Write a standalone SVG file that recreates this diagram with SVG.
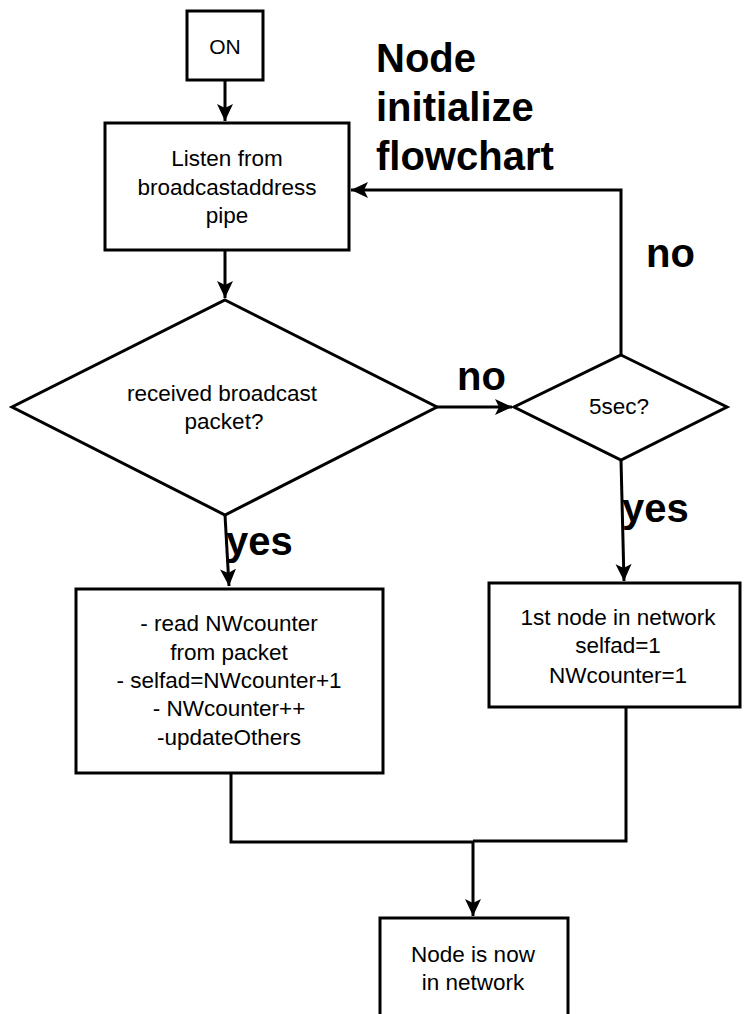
<svg xmlns="http://www.w3.org/2000/svg" width="748" height="1014" viewBox="0 0 748 1014">
  <style>
    .shape { fill: #ffffff; stroke: #000000; stroke-width: 3; }
    .edge { fill: none; stroke: #000000; stroke-width: 3; }
    .txt { font-family: "Liberation Sans", Arial, sans-serif; font-size: 22.5px; fill: #000000; text-anchor: middle; }
    .big { font-family: "Liberation Sans", Arial, sans-serif; font-size: 40px; font-weight: bold; fill: #000000; }
  </style>
  <defs>
    <marker id="arrow" markerUnits="userSpaceOnUse" markerWidth="20" markerHeight="18" refX="17" refY="9" orient="auto">
      <path d="M0,1 L17,9 L0,17 L4,9 Z" fill="#000000"/>
    </marker>
  </defs>
  <rect width="748" height="1014" fill="#ffffff"/>

  <g id="connectors">
    <path class="edge" d="M225,80 L225,121" marker-end="url(#arrow)"/>
    <path class="edge" d="M225,250 L225,298" marker-end="url(#arrow)"/>
    <path class="edge" d="M437,407 L512,407" marker-end="url(#arrow)"/>
    <path class="edge" d="M621,355 L621,190 L351,190" marker-end="url(#arrow)"/>
    <path class="edge" d="M225,515 L229,586" marker-end="url(#arrow)"/>
    <path class="edge" d="M621,460 L624,581" marker-end="url(#arrow)"/>
    <path class="edge" d="M231,773 L231,842 L473,842"/>
    <path class="edge" d="M626,707 L626,841 L473,841"/>
    <path class="edge" d="M473,841 L473,916" marker-end="url(#arrow)"/>
  </g>

  <g id="title">
    <text class="big" x="376" y="72">Node</text>
    <text class="big" x="376" y="121">initialize</text>
    <text class="big" x="376" y="170">flowchart</text>
  </g>

  <g id="label-no-left"><text class="big" x="457" y="390">no</text></g>
  <g id="label-no-right"><text class="big" x="646" y="267">no</text></g>
  <g id="label-yes-left"><text class="big" x="226" y="555">yes</text></g>
  <g id="label-yes-right"><text class="big" x="622" y="522">yes</text></g>

  <g id="node-on">
    <rect class="shape" x="187" y="11" width="76" height="69"/>
    <text class="txt" x="225" y="54" style="font-size:21px">ON</text>
  </g>

  <g id="node-listen">
    <rect class="shape" x="105" y="123" width="244" height="127"/>
    <text class="txt" x="227" y="166">Listen from</text>
    <text class="txt" x="227" y="195">broadcastaddress</text>
    <text class="txt" x="227" y="223">pipe</text>
  </g>

  <g id="node-received">
    <polygon class="shape" points="225,300 437,407 225,515 12,407"/>
    <text class="txt" x="222" y="401">received broadcast</text>
    <text class="txt" x="224" y="429">packet?</text>
  </g>

  <g id="node-5sec">
    <polygon class="shape" points="621,355 727,407 621,460 514,407"/>
    <text class="txt" x="619" y="414">5sec?</text>
  </g>

  <g id="node-join">
    <rect class="shape" x="76" y="589" width="307" height="184"/>
    <text class="txt" x="229" y="631">- read NWcounter</text>
    <text class="txt" x="229" y="660">from packet</text>
    <text class="txt" x="229" y="688">- selfad=NWcounter+1</text>
    <text class="txt" x="229" y="716">- NWcounter++</text>
    <text class="txt" x="229" y="745">-updateOthers</text>
  </g>

  <g id="node-first">
    <rect class="shape" x="489" y="583" width="251" height="124"/>
    <text class="txt" x="618" y="625">1st node in network</text>
    <text class="txt" x="618" y="653">selfad=1</text>
    <text class="txt" x="618" y="683">NWcounter=1</text>
  </g>

  <g id="node-done">
    <rect class="shape" x="380" y="918" width="188" height="110"/>
    <text class="txt" x="473" y="962">Node is now</text>
    <text class="txt" x="473" y="990">in network</text>
  </g>
</svg>
